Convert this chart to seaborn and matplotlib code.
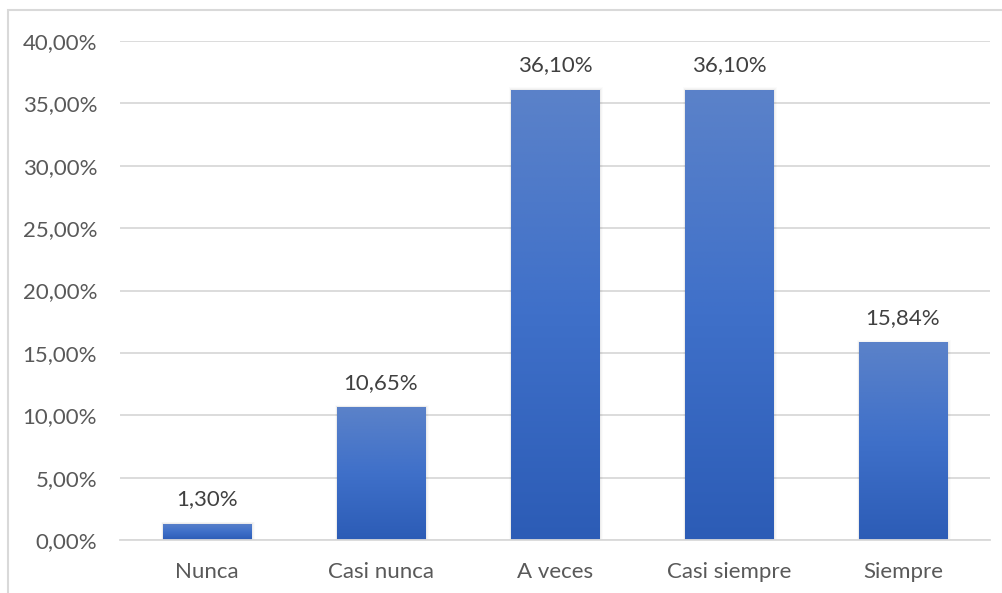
import numpy as np
import pandas as pd
import seaborn as sns
import matplotlib.pyplot as plt
from matplotlib.patches import Rectangle
from matplotlib.colors import LinearSegmentedColormap
from matplotlib.ticker import FuncFormatter, MultipleLocator

categories = ["Nunca", "Casi nunca", "A veces", "Casi siempre", "Siempre"]
values = [1.30, 10.65, 36.10, 36.10, 15.84]

df = pd.DataFrame({"categoria": categories, "porcentaje": values})

sns.set_theme(style="white")
plt.rcParams["font.family"] = ["Lato", "DejaVu Sans"]

W, H = 1003, 593
fig = plt.figure(figsize=(W / 100, H / 100), dpi=100)
ax = fig.add_axes([120 / W, 1 - 540 / H, 870 / W, 499 / H])

sns.barplot(data=df, x="categoria", y="porcentaje", color="#4472c4",
            width=0.506, linewidth=0, ax=ax, zorder=2)

ax.set_ylim(0, 40)
ax.set_xlim(-0.5, len(categories) - 0.5)
ax.yaxis.set_major_locator(MultipleLocator(5))
ax.yaxis.set_major_formatter(FuncFormatter(lambda v, _: f"{v:.2f}".replace(".", ",") + "%"))
ax.grid(axis="y", color="#d9d9d9", linewidth=1.3, zorder=0)
for s in ["top", "right", "left"]:
    ax.spines[s].set_visible(False)
ax.spines["bottom"].set_color("#d9d9d9")
ax.spines["bottom"].set_linewidth(1.3)
ax.tick_params(axis="y", length=0, pad=16.5, labelsize=16, labelcolor="#595959")
ax.tick_params(axis="x", length=0, pad=16, labelsize=16, labelcolor="#595959")
ax.set_xlabel("")
ax.set_ylabel("")

# gradient fill and soft shadow for each bar
cmap = LinearSegmentedColormap.from_list("barra", ["#2c5cb6", "#3f70c9", "#5b82c9"])
grad = np.linspace(0, 1, 256).reshape(-1, 1)
for patch, val in zip(list(ax.patches), values):
    x0 = patch.get_x()
    w = patch.get_width()
    h = patch.get_height()
    for k, a in enumerate([0.035, 0.025, 0.015]):
        d = 0.01 * (k + 1)
        ax.add_patch(Rectangle((x0 - d * 0.4, 0.0), w + d * 0.8 + 0.008, h + d * 6,
                               facecolor="black", alpha=a, edgecolor="none", zorder=1.5))
    patch.set_facecolor("none")
    im = ax.imshow(grad, extent=[x0, x0 + w, 0, h], aspect="auto", cmap=cmap,
                   origin="lower", zorder=2.5)
    im.set_clip_path(patch)
    ax.text(x0 + w / 2, h + 1.15, f"{val:.2f}".replace(".", ",") + "%",
            ha="center", va="bottom", fontsize=16, color="#404040", zorder=3)

ax.set_xlim(-0.5, len(categories) - 0.5)
ax.set_ylim(0, 40)

# chart frame
fig.patches.append(Rectangle((8 / W, -0.01), (W - 8) / W, 1 - 10 / H + 0.01,
                             transform=fig.transFigure, fill=False,
                             edgecolor="#d9d9d9", linewidth=1.5))

fig.savefig("out.png", dpi=100)
